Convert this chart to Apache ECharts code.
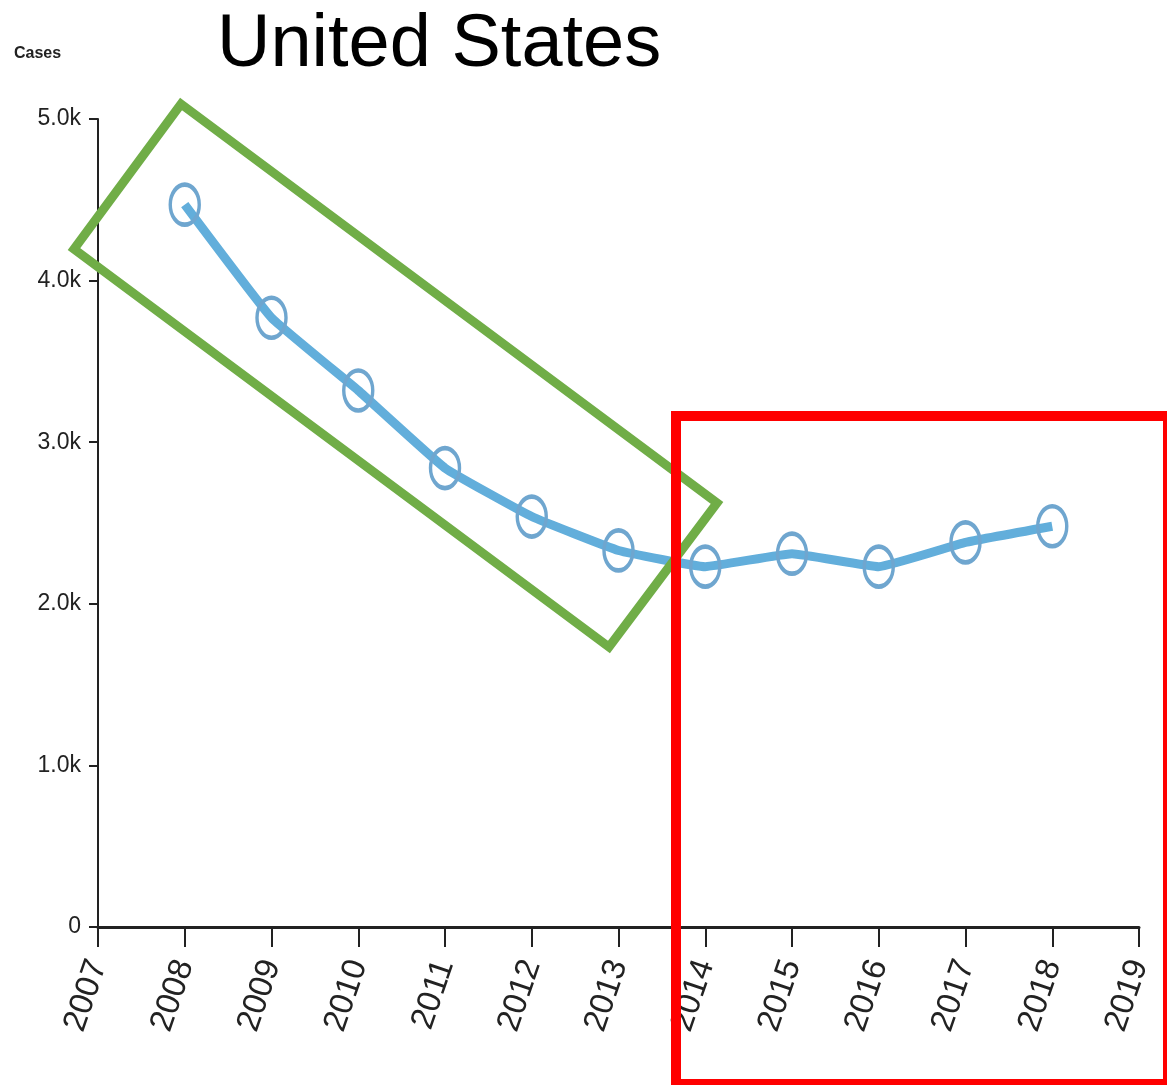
<!DOCTYPE html>
<html>
<head>
<meta charset="utf-8">
<script src="https://cdn.jsdelivr.net/npm/echarts@6/dist/echarts.min.js"></script>
<style>
html,body{margin:0;padding:0;background:#fff;}
#chart{width:1167px;height:1085px;}
</style>
</head>
<body>
<div id="chart"></div>
<script>
const titleText = 'United States';
const yAxisTitle = 'Cases';
const years = [2008, 2009, 2010, 2011, 2012, 2013, 2014, 2015, 2016, 2017, 2018];
const cases = [4470, 3770, 3320, 2840, 2540, 2330, 2230, 2310, 2230, 2380, 2480];
const xMin = 2007, xMax = 2019;
const yTicks = [0, 1000, 2000, 3000, 4000, 5000];

const sans = "'Liberation Sans', Arial, sans-serif";
const chart = echarts.init(document.getElementById('chart'), null, {renderer: 'canvas'});
const seriesData = years.map((y, i) => [y, cases[i]]);

chart.setOption({
  animation: false,
  backgroundColor: '#ffffff',
  title: {
    text: titleText,
    left: 212,
    top: 4,
    textStyle: {fontFamily: sans, fontSize: 74, fontWeight: 'normal', color: '#000'}
  },
  grid: {left: 98, right: 28, top: 119, bottom: 158},
  xAxis: {
    type: 'value',
    min: xMin, max: xMax, interval: 1,
    splitLine: {show: false},
    axisLine: {show: true, onZero: false, lineStyle: {color: '#222', width: 3}},
    axisTick: {show: true, length: 20, lineStyle: {color: '#222', width: 2}},
    axisLabel: {
      rotate: 71, margin: 34, fontSize: 33, color: '#222',
      fontFamily: sans,
      formatter: v => String(v),
      showMinLabel: true, showMaxLabel: true
    }
  },
  yAxis: {
    type: 'value',
    min: yTicks[0], max: yTicks[yTicks.length - 1], interval: 1000,
    splitLine: {show: false},
    axisLine: {show: true, lineStyle: {color: '#222', width: 2}},
    axisTick: {show: true, length: 9, lineStyle: {color: '#222', width: 2}},
    axisLabel: {
      margin: 17, fontSize: 23, color: '#222', fontFamily: sans,
      formatter: v => v === 0 ? '0' : (v / 1000).toFixed(1) + 'k'
    }
  },
  graphic: [
    {type: 'text', left: 14, top: 46, style: {text: yAxisTitle, font: "bold 16px " + sans, fill: '#222'}},
    {type: 'polygon', z: 100, silent: true,
      shape: {points: [[181, 104], [717, 503], [609, 647], [74, 249]]},
      style: {fill: 'none', stroke: '#70AD47', lineWidth: 9, lineJoin: 'miter'}},
    {type: 'rect', z: 100, silent: true,
      shape: {x: 676, y: 416, width: 492, height: 668},
      style: {fill: 'none', stroke: '#FF0000', lineWidth: 10}}
  ],
  series: [{
    type: 'line',
    data: seriesData,
    smooth: 0.1,
    symbol: 'circle',
    symbolSize: [29, 40],
    lineStyle: {color: '#62AEDB', width: 9},
    itemStyle: {color: 'rgba(255,255,255,0)', borderColor: '#6FA6CF', borderWidth: 4}
  }]
});
</script>
</body>
</html>
